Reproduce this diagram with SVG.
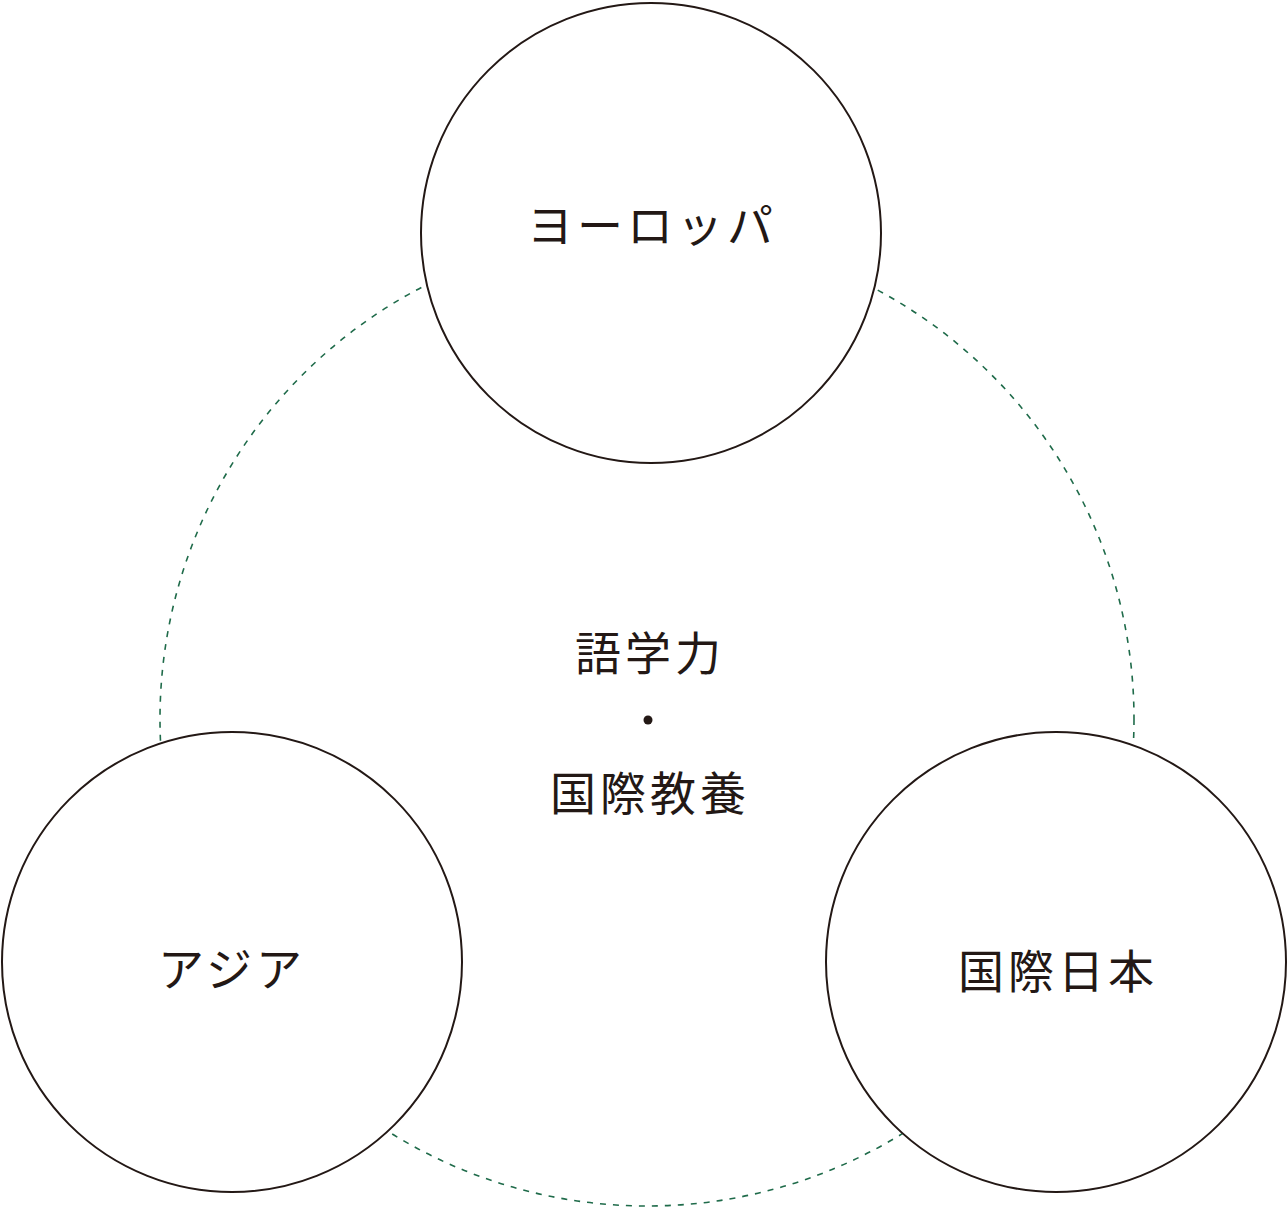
<svg xmlns="http://www.w3.org/2000/svg" width="1288" height="1212" viewBox="0 0 1288 1212">
<style>
.n{fill:#fff;stroke:#231815;stroke-width:2}
.t{font-family:"Noto Sans CJK JP",sans-serif;font-size:46px;fill:#231815;text-anchor:middle;letter-spacing:4px}
</style>
<rect width="1288" height="1212" fill="#fff"/>
<g id="connectors">
<circle cx="647" cy="719" r="487" fill="none" stroke="#1f6b4a" stroke-width="1.6" stroke-dasharray="6 7"/>
</g>
<g id="center">
<text class="t" x="650" y="670">語学力</text>
<circle cx="648" cy="720" r="4.5" fill="#231815"/>
<text class="t" x="650" y="810">国際教養</text>
</g>
<g id="europe">
<circle class="n" cx="651" cy="233" r="230"/>
<text class="t" x="652" y="242">ヨーロッパ</text>
</g>
<g id="asia">
<circle class="n" cx="232" cy="962" r="230"/>
<text class="t" x="232" y="986">アジア</text>
</g>
<g id="japan">
<circle class="n" cx="1056" cy="962" r="230"/>
<text class="t" x="1058" y="988">国際日本</text>
</g>
</svg>
